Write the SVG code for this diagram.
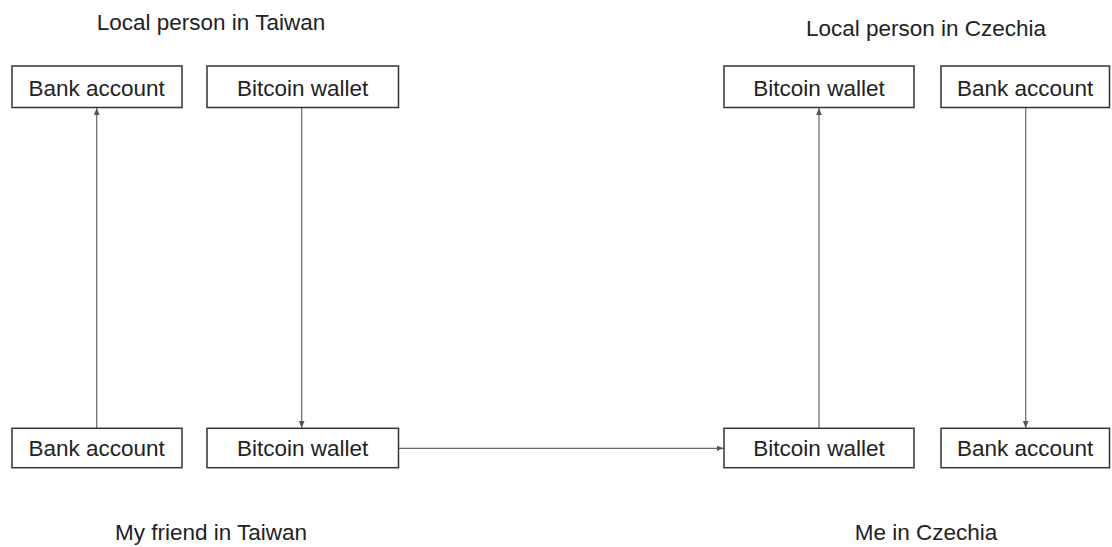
<svg xmlns="http://www.w3.org/2000/svg" width="1112" height="547" viewBox="0 0 1112 547">
  <style>
    .box { fill: #ffffff; stroke: #333333; stroke-width: 1.5; }
    .lbl { font-family: "Liberation Sans", Arial, sans-serif; font-size: 22.5px; fill: #222222; text-anchor: middle; }
    .edge { fill: none; stroke: #666666; stroke-width: 1.2; marker-end: url(#arrow); }
  </style>
  <defs>
    <marker id="arrow" viewBox="0 0 10 10" refX="10" refY="5" markerWidth="7" markerHeight="7" markerUnits="userSpaceOnUse" orient="auto">
      <path d="M0,1 L10,5 L0,9 Z" fill="#555555"/>
    </marker>
  </defs>
  <rect width="1112" height="547" fill="#ffffff"/>

  <!-- group captions -->
  <text class="lbl" x="211" y="30">Local person in Taiwan</text>
  <text class="lbl" x="926" y="36">Local person in Czechia</text>
  <text class="lbl" x="211" y="540">My friend in Taiwan</text>
  <text class="lbl" x="926" y="540">Me in Czechia</text>

  <!-- connectors -->
  <g id="connectors">
    <line class="edge" x1="96.7" y1="428" x2="96.7" y2="108"/>
    <line class="edge" x1="301.7" y1="108" x2="301.7" y2="428"/>
    <line class="edge" x1="819" y1="428" x2="819" y2="108"/>
    <line class="edge" x1="1025.7" y1="108" x2="1025.7" y2="428"/>
    <line class="edge" x1="398.5" y1="448.3" x2="723.5" y2="448.3"/>
  </g>

  <!-- Taiwan, local person -->
  <g id="tw-local-bank">
    <rect class="box" x="12" y="66" width="170" height="41.5"/>
    <text class="lbl" x="96.7" y="95.7">Bank account</text>
  </g>
  <g id="tw-local-btc">
    <rect class="box" x="207" y="66" width="191.5" height="41.5"/>
    <text class="lbl" x="302.7" y="95.7">Bitcoin wallet</text>
  </g>

  <!-- Czechia, local person -->
  <g id="cz-local-btc">
    <rect class="box" x="724" y="66" width="190" height="41.5"/>
    <text class="lbl" x="819" y="95.7">Bitcoin wallet</text>
  </g>
  <g id="cz-local-bank">
    <rect class="box" x="941" y="66" width="168.5" height="41.5"/>
    <text class="lbl" x="1025.2" y="95.7">Bank account</text>
  </g>

  <!-- Taiwan, friend -->
  <g id="tw-friend-bank">
    <rect class="box" x="12" y="428.3" width="170" height="39.4"/>
    <text class="lbl" x="96.7" y="456">Bank account</text>
  </g>
  <g id="tw-friend-btc">
    <rect class="box" x="207" y="428.3" width="191.5" height="39.4"/>
    <text class="lbl" x="302.7" y="456">Bitcoin wallet</text>
  </g>

  <!-- Czechia, me -->
  <g id="cz-me-btc">
    <rect class="box" x="724" y="428.3" width="190" height="39.4"/>
    <text class="lbl" x="819" y="456">Bitcoin wallet</text>
  </g>
  <g id="cz-me-bank">
    <rect class="box" x="941" y="428.3" width="168.5" height="39.4"/>
    <text class="lbl" x="1025.2" y="456">Bank account</text>
  </g>
</svg>
